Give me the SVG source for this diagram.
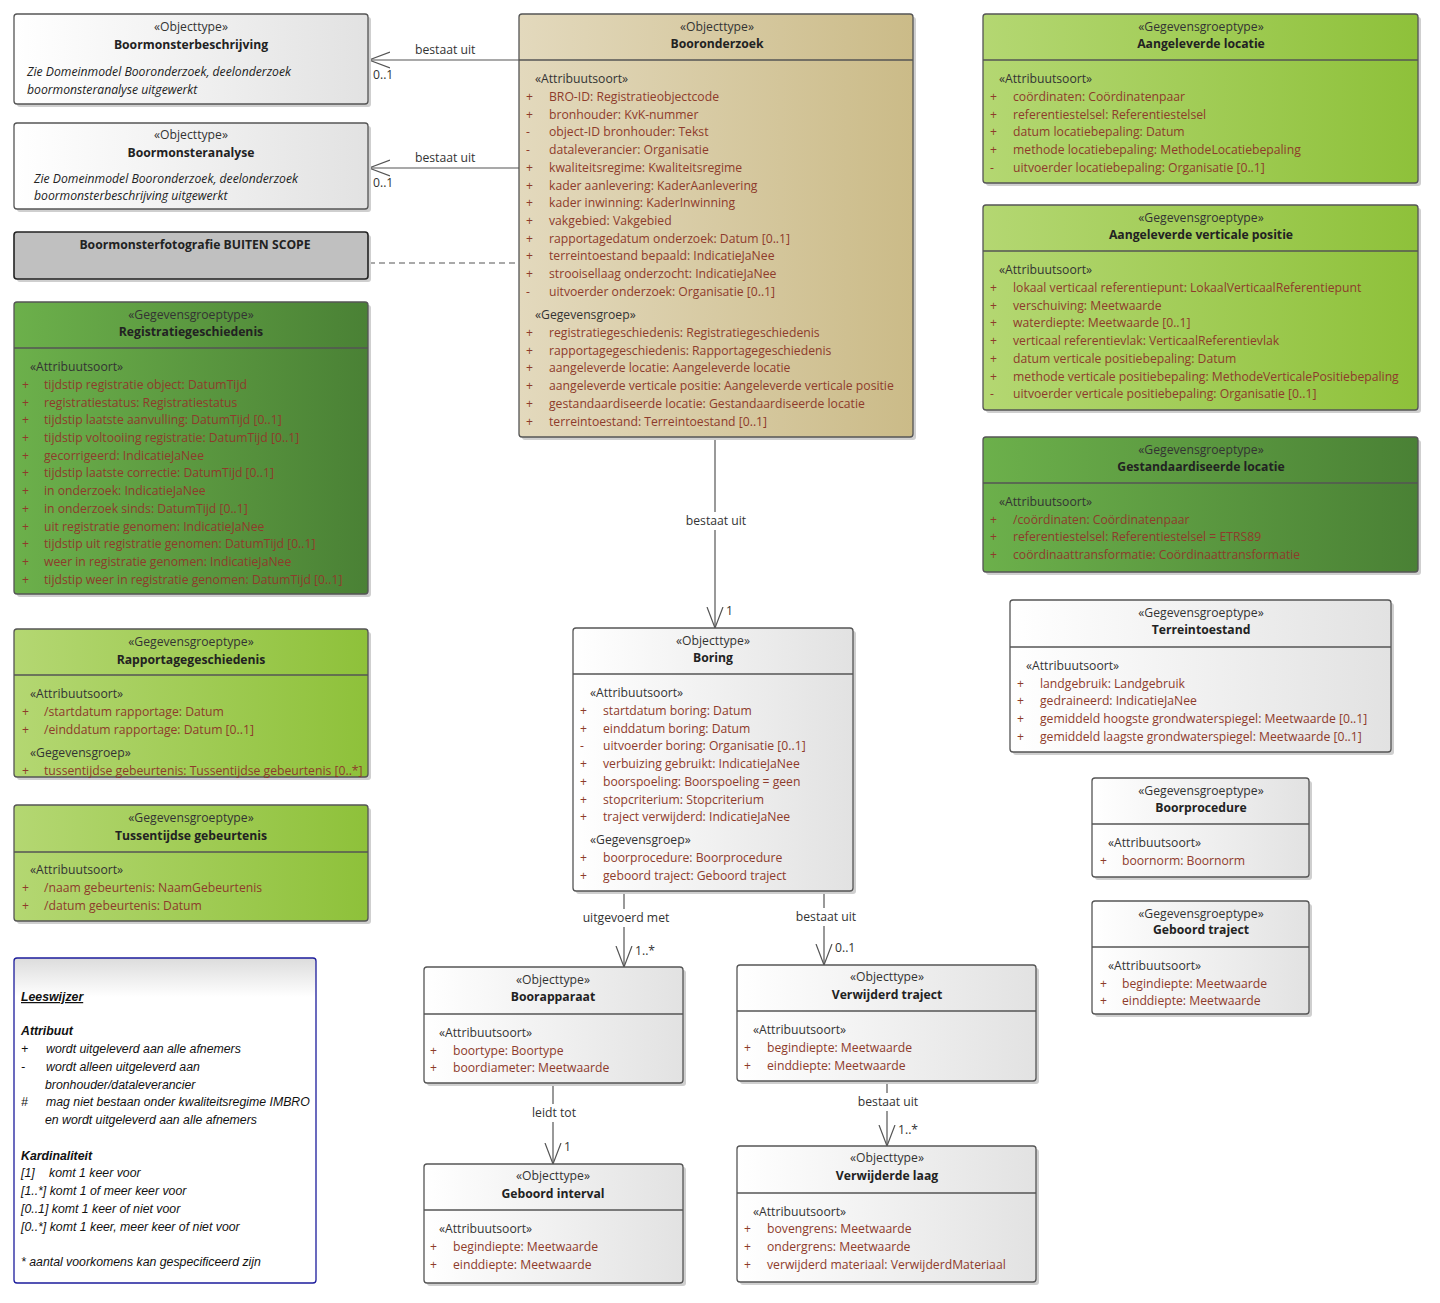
<svg xmlns="http://www.w3.org/2000/svg" width="1440" height="1303" viewBox="0 0 1440 1303">
<defs>
<linearGradient id="gWhite" x1="0" y1="0" x2="1" y2="0"><stop offset="0" stop-color="#ffffff"/><stop offset="1" stop-color="#e2e2e2"/></linearGradient>
<linearGradient id="gTan" x1="0" y1="0" x2="1" y2="0"><stop offset="0" stop-color="#e3d9bd"/><stop offset="1" stop-color="#cbbb88"/></linearGradient>
<linearGradient id="gLight" x1="0" y1="0" x2="1" y2="0"><stop offset="0" stop-color="#b4d772"/><stop offset="1" stop-color="#8ec13a"/></linearGradient>
<linearGradient id="gDark" x1="0" y1="0" x2="1" y2="0"><stop offset="0" stop-color="#6cb04b"/><stop offset="1" stop-color="#4a8135"/></linearGradient>
<linearGradient id="gNote" x1="0" y1="0" x2="0" y2="1"><stop offset="0" stop-color="#dcdcdc"/><stop offset="0.12" stop-color="#ffffff"/><stop offset="1" stop-color="#ffffff"/></linearGradient>
<marker id="open" viewBox="0 0 22 20" refX="21" refY="10" markerWidth="22" markerHeight="20" markerUnits="userSpaceOnUse" orient="auto-start-reverse">
<path d="M0,2 L21,10 L0,18" fill="none" stroke="#555" stroke-width="1.2"/>
</marker>
</defs>
<style>
text{font-family:"Open Sans","Liberation Sans",Arial,sans-serif;font-size:12.2px;fill:#333}
.st{text-anchor:middle;fill:#333}
.nm{text-anchor:middle;font-weight:bold;fill:#222}
.at{fill:#8e3b2b}
.sym{fill:#8e3b2b}
.it{font-style:italic;fill:#222}
.box{stroke:#555;stroke-width:1.3}
.sh{fill:#cfcfcf}
.div{stroke:#555;stroke-width:1.3}
.con{stroke:#555;stroke-width:1.2;fill:none}
.lbl{fill:#333}
.note{font-family:"Liberation Sans",Arial,sans-serif;font-style:italic;font-size:12.3px;fill:#111}
</style>
<rect width="1440" height="1303" fill="#ffffff"/>

<g id="connectors">
<line class="con" x1="519" y1="60" x2="369" y2="60" marker-end="url(#open)"/>
<text class="lbl" x="415" y="54">bestaat uit</text>
<text class="lbl" x="373" y="79">0..1</text>
<line class="con" x1="519" y1="168" x2="369" y2="168" marker-end="url(#open)"/>
<text class="lbl" x="415" y="162">bestaat uit</text>
<text class="lbl" x="373" y="187">0..1</text>
<line class="con" x1="369" y1="263" x2="519" y2="263" stroke-dasharray="6,4"/>
<line class="con" x1="715" y1="437" x2="715" y2="512"/>
<line class="con" x1="715" y1="530" x2="715" y2="628" marker-end="url(#open)"/>
<text class="lbl" x="716" y="525" text-anchor="middle">bestaat uit</text>
<text class="lbl" x="726" y="615">1</text>
<line class="con" x1="624" y1="891" x2="624" y2="909"/>
<line class="con" x1="624" y1="927" x2="624" y2="967" marker-end="url(#open)"/>
<text class="lbl" x="626" y="922" text-anchor="middle">uitgevoerd met</text>
<text class="lbl" x="635" y="955">1..*</text>
<line class="con" x1="824" y1="891" x2="824" y2="908"/>
<line class="con" x1="824" y1="926" x2="824" y2="965" marker-end="url(#open)"/>
<text class="lbl" x="826" y="921" text-anchor="middle">bestaat uit</text>
<text class="lbl" x="835" y="952">0..1</text>
<line class="con" x1="553" y1="1083" x2="553" y2="1104"/>
<line class="con" x1="553" y1="1122" x2="553" y2="1164" marker-end="url(#open)"/>
<text class="lbl" x="554" y="1117" text-anchor="middle">leidt tot</text>
<text class="lbl" x="564" y="1151">1</text>
<line class="con" x1="887" y1="1081" x2="887" y2="1093"/>
<line class="con" x1="887" y1="1111" x2="887" y2="1146" marker-end="url(#open)"/>
<text class="lbl" x="888" y="1106" text-anchor="middle">bestaat uit</text>
<text class="lbl" x="898" y="1134">1..*</text>
</g>

<g id="boormonsterbeschrijving">
<rect class="sh" x="17" y="17" width="354" height="90" rx="3"/>
<rect class="box" x="14" y="14" width="354" height="90" rx="3" fill="url(#gWhite)"/>
<text class="st" x="191" y="31">«Objecttype»</text>
<text class="nm" x="191" y="49">Boormonsterbeschrijving</text>
<text class="it" x="27" y="76">Zie Domeinmodel Booronderzoek, deelonderzoek</text>
<text class="it" x="27" y="94">boormonsteranalyse uitgewerkt</text>
</g>

<g id="boormonsteranalyse">
<rect class="sh" x="17" y="126" width="354" height="86" rx="3"/>
<rect class="box" x="14" y="123" width="354" height="86" rx="3" fill="url(#gWhite)"/>
<text class="st" x="191" y="139">«Objecttype»</text>
<text class="nm" x="191" y="157">Boormonsteranalyse</text>
<text class="it" x="34" y="183">Zie Domeinmodel Booronderzoek, deelonderzoek</text>
<text class="it" x="34" y="200">boormonsterbeschrijving uitgewerkt</text>
</g>

<g id="boormonsterfotografie">
<rect class="sh" x="17" y="235" width="354" height="47" rx="3"/>
<rect x="14" y="232" width="354" height="47" rx="3" fill="#c0c0c0" stroke="#222" stroke-width="1.6"/>
<text class="nm" x="195" y="249" fill="#111">Boormonsterfotografie BUITEN SCOPE</text>
</g>

<g id="registratiegeschiedenis">
<rect class="sh" x="17" y="305" width="354" height="292" rx="3"/>
<rect class="box" x="14" y="302" width="354" height="292" rx="3" fill="url(#gDark)"/>
<line class="div" x1="14" y1="348" x2="368" y2="348"/>
<text class="st" x="191" y="319" fill="#111">«Gegevensgroeptype»</text>
<text class="nm" x="191" y="336" fill="#111">Registratiegeschiedenis</text>
<text x="30" y="371" fill="#111">«Attribuutsoort»</text>
<text x="22" y="389" class="sym">+</text><text x="44" y="389" class="at">tijdstip registratie object: DatumTijd</text>
<text x="22" y="407" class="sym">+</text><text x="44" y="407" class="at">registratiestatus: Registratiestatus</text>
<text x="22" y="424" class="sym">+</text><text x="44" y="424" class="at">tijdstip laatste aanvulling: DatumTijd [0..1]</text>
<text x="22" y="442" class="sym">+</text><text x="44" y="442" class="at">tijdstip voltooiing registratie: DatumTijd [0..1]</text>
<text x="22" y="460" class="sym">+</text><text x="44" y="460" class="at">gecorrigeerd: IndicatieJaNee</text>
<text x="22" y="477" class="sym">+</text><text x="44" y="477" class="at">tijdstip laatste correctie: DatumTijd [0..1]</text>
<text x="22" y="495" class="sym">+</text><text x="44" y="495" class="at">in onderzoek: IndicatieJaNee</text>
<text x="22" y="513" class="sym">+</text><text x="44" y="513" class="at">in onderzoek sinds: DatumTijd [0..1]</text>
<text x="22" y="531" class="sym">+</text><text x="44" y="531" class="at">uit registratie genomen: IndicatieJaNee</text>
<text x="22" y="548" class="sym">+</text><text x="44" y="548" class="at">tijdstip uit registratie genomen: DatumTijd [0..1]</text>
<text x="22" y="566" class="sym">+</text><text x="44" y="566" class="at">weer in registratie genomen: IndicatieJaNee</text>
<text x="22" y="584" class="sym">+</text><text x="44" y="584" class="at">tijdstip weer in registratie genomen: DatumTijd [0..1]</text>
</g>

<g id="rapportagegeschiedenis">
<rect class="sh" x="17" y="632" width="354" height="148" rx="3"/>
<rect class="box" x="14" y="629" width="354" height="148" rx="3" fill="url(#gLight)"/>
<line class="div" x1="14" y1="675" x2="368" y2="675"/>
<text class="st" x="191" y="646">«Gegevensgroeptype»</text>
<text class="nm" x="191" y="664">Rapportagegeschiedenis</text>
<text x="30" y="698">«Attribuutsoort»</text>
<text x="22" y="716" class="sym">+</text><text x="44" y="716" class="at">/startdatum rapportage: Datum</text>
<text x="22" y="734" class="sym">+</text><text x="44" y="734" class="at">/einddatum rapportage: Datum [0..1]</text>
<text x="30" y="757">«Gegevensgroep»</text>
<text x="22" y="775" class="sym">+</text><text x="44" y="775" class="at">tussentijdse gebeurtenis: Tussentijdse gebeurtenis [0..*]</text>
</g>

<g id="tussentijdse-gebeurtenis">
<rect class="sh" x="17" y="808" width="354" height="116" rx="3"/>
<rect class="box" x="14" y="805" width="354" height="116" rx="3" fill="url(#gLight)"/>
<line class="div" x1="14" y1="852" x2="368" y2="852"/>
<text class="st" x="191" y="822">«Gegevensgroeptype»</text>
<text class="nm" x="191" y="840">Tussentijdse gebeurtenis</text>
<text x="30" y="874">«Attribuutsoort»</text>
<text x="22" y="892" class="sym">+</text><text x="44" y="892" class="at">/naam gebeurtenis: NaamGebeurtenis</text>
<text x="22" y="910" class="sym">+</text><text x="44" y="910" class="at">/datum gebeurtenis: Datum</text>
</g>

<g id="leeswijzer">
<rect x="14" y="958" width="302" height="325" rx="3" fill="url(#gNote)" stroke="#1c1c9c" stroke-width="1.3"/>
<text class="note" x="21" y="1001" font-weight="bold" text-decoration="underline">Leeswijzer</text>
<text class="note" x="21" y="1035" font-weight="bold">Attribuut</text>
<text class="note" x="21" y="1053">+</text><text class="note" x="46" y="1053">wordt uitgeleverd aan alle afnemers</text>
<text class="note" x="21" y="1071">-</text><text class="note" x="46" y="1071">wordt alleen uitgeleverd aan</text>
<text class="note" x="45" y="1089">bronhouder/dataleverancier</text>
<text class="note" x="21" y="1106">#</text><text class="note" x="46" y="1106">mag niet bestaan onder kwaliteitsregime IMBRO</text>
<text class="note" x="45" y="1124">en wordt uitgeleverd aan alle afnemers</text>
<text class="note" x="21" y="1160" font-weight="bold">Kardinaliteit</text>
<text class="note" x="21" y="1177">[1]</text><text class="note" x="49" y="1177">komt 1 keer voor</text>
<text class="note" x="21" y="1195">[1..*] komt 1 of meer keer voor</text>
<text class="note" x="21" y="1213">[0..1] komt 1 keer of niet voor</text>
<text class="note" x="21" y="1231">[0..*] komt 1 keer, meer keer of niet voor</text>
<text class="note" x="21" y="1266">* aantal voorkomens kan gespecificeerd zijn</text>
</g>

<g id="booronderzoek">
<rect class="sh" x="522" y="17" width="394" height="423" rx="3"/>
<rect class="box" x="519" y="14" width="394" height="423" rx="3" fill="url(#gTan)"/>
<line class="div" x1="519" y1="60" x2="913" y2="60"/>
<text class="st" x="717" y="31">«Objecttype»</text>
<text class="nm" x="717" y="48">Booronderzoek</text>
<text x="535" y="83">«Attribuutsoort»</text>
<text x="526" y="101" class="sym">+</text><text x="549" y="101" class="at">BRO-ID: Registratieobjectcode</text>
<text x="526" y="119" class="sym">+</text><text x="549" y="119" class="at">bronhouder: KvK-nummer</text>
<text x="526" y="136" class="sym">-</text><text x="549" y="136" class="at">object-ID bronhouder: Tekst</text>
<text x="526" y="154" class="sym">-</text><text x="549" y="154" class="at">dataleverancier: Organisatie</text>
<text x="526" y="172" class="sym">+</text><text x="549" y="172" class="at">kwaliteitsregime: Kwaliteitsregime</text>
<text x="526" y="190" class="sym">+</text><text x="549" y="190" class="at">kader aanlevering: KaderAanlevering</text>
<text x="526" y="207" class="sym">+</text><text x="549" y="207" class="at">kader inwinning: KaderInwinning</text>
<text x="526" y="225" class="sym">+</text><text x="549" y="225" class="at">vakgebied: Vakgebied</text>
<text x="526" y="243" class="sym">+</text><text x="549" y="243" class="at">rapportagedatum onderzoek: Datum [0..1]</text>
<text x="526" y="260" class="sym">+</text><text x="549" y="260" class="at">terreintoestand bepaald: IndicatieJaNee</text>
<text x="526" y="278" class="sym">+</text><text x="549" y="278" class="at">strooisellaag onderzocht: IndicatieJaNee</text>
<text x="526" y="296" class="sym">-</text><text x="549" y="296" class="at">uitvoerder onderzoek: Organisatie [0..1]</text>
<text x="535" y="319">«Gegevensgroep»</text>
<text x="526" y="337" class="sym">+</text><text x="549" y="337" class="at">registratiegeschiedenis: Registratiegeschiedenis</text>
<text x="526" y="355" class="sym">+</text><text x="549" y="355" class="at">rapportagegeschiedenis: Rapportagegeschiedenis</text>
<text x="526" y="372" class="sym">+</text><text x="549" y="372" class="at">aangeleverde locatie: Aangeleverde locatie</text>
<text x="526" y="390" class="sym">+</text><text x="549" y="390" class="at">aangeleverde verticale positie: Aangeleverde verticale positie</text>
<text x="526" y="408" class="sym">+</text><text x="549" y="408" class="at">gestandaardiseerde locatie: Gestandaardiseerde locatie</text>
<text x="526" y="426" class="sym">+</text><text x="549" y="426" class="at">terreintoestand: Terreintoestand [0..1]</text>
</g>

<g id="boring">
<rect class="sh" x="576" y="631" width="280" height="263" rx="3"/>
<rect class="box" x="573" y="628" width="280" height="263" rx="3" fill="url(#gWhite)"/>
<line class="div" x1="573" y1="674" x2="853" y2="674"/>
<text class="st" x="713" y="645">«Objecttype»</text>
<text class="nm" x="713" y="662">Boring</text>
<text x="590" y="697">«Attribuutsoort»</text>
<text x="580" y="715" class="sym">+</text><text x="603" y="715" class="at">startdatum boring: Datum</text>
<text x="580" y="733" class="sym">+</text><text x="603" y="733" class="at">einddatum boring: Datum</text>
<text x="580" y="750" class="sym">-</text><text x="603" y="750" class="at">uitvoerder boring: Organisatie [0..1]</text>
<text x="580" y="768" class="sym">+</text><text x="603" y="768" class="at">verbuizing gebruikt: IndicatieJaNee</text>
<text x="580" y="786" class="sym">+</text><text x="603" y="786" class="at">boorspoeling: Boorspoeling = geen</text>
<text x="580" y="804" class="sym">+</text><text x="603" y="804" class="at">stopcriterium: Stopcriterium</text>
<text x="580" y="821" class="sym">+</text><text x="603" y="821" class="at">traject verwijderd: IndicatieJaNee</text>
<text x="590" y="844">«Gegevensgroep»</text>
<text x="580" y="862" class="sym">+</text><text x="603" y="862" class="at">boorprocedure: Boorprocedure</text>
<text x="580" y="880" class="sym">+</text><text x="603" y="880" class="at">geboord traject: Geboord traject</text>
</g>

<g id="boorapparaat">
<rect class="sh" x="427" y="970" width="259" height="116" rx="3"/>
<rect class="box" x="424" y="967" width="259" height="116" rx="3" fill="url(#gWhite)"/>
<line class="div" x1="424" y1="1014" x2="683" y2="1014"/>
<text class="st" x="553" y="984">«Objecttype»</text>
<text class="nm" x="553" y="1001">Boorapparaat</text>
<text x="439" y="1037">«Attribuutsoort»</text>
<text x="430" y="1055" class="sym">+</text><text x="453" y="1055" class="at">boortype: Boortype</text>
<text x="430" y="1072" class="sym">+</text><text x="453" y="1072" class="at">boordiameter: Meetwaarde</text>
</g>

<g id="geboord-interval">
<rect class="sh" x="427" y="1167" width="259" height="119" rx="3"/>
<rect class="box" x="424" y="1164" width="259" height="119" rx="3" fill="url(#gWhite)"/>
<line class="div" x1="424" y1="1210" x2="683" y2="1210"/>
<text class="st" x="553" y="1180">«Objecttype»</text>
<text class="nm" x="553" y="1198">Geboord interval</text>
<text x="439" y="1233">«Attribuutsoort»</text>
<text x="430" y="1251" class="sym">+</text><text x="453" y="1251" class="at">begindiepte: Meetwaarde</text>
<text x="430" y="1269" class="sym">+</text><text x="453" y="1269" class="at">einddiepte: Meetwaarde</text>
</g>

<g id="verwijderd-traject">
<rect class="sh" x="740" y="968" width="299" height="116" rx="3"/>
<rect class="box" x="737" y="965" width="299" height="116" rx="3" fill="url(#gWhite)"/>
<line class="div" x1="737" y1="1011" x2="1036" y2="1011"/>
<text class="st" x="887" y="981">«Objecttype»</text>
<text class="nm" x="887" y="999">Verwijderd traject</text>
<text x="753" y="1034">«Attribuutsoort»</text>
<text x="744" y="1052" class="sym">+</text><text x="767" y="1052" class="at">begindiepte: Meetwaarde</text>
<text x="744" y="1070" class="sym">+</text><text x="767" y="1070" class="at">einddiepte: Meetwaarde</text>
</g>

<g id="verwijderde-laag">
<rect class="sh" x="740" y="1149" width="299" height="136" rx="3"/>
<rect class="box" x="737" y="1146" width="299" height="136" rx="3" fill="url(#gWhite)"/>
<line class="div" x1="737" y1="1193" x2="1036" y2="1193"/>
<text class="st" x="887" y="1162">«Objecttype»</text>
<text class="nm" x="887" y="1180">Verwijderde laag</text>
<text x="753" y="1216">«Attribuutsoort»</text>
<text x="744" y="1233" class="sym">+</text><text x="767" y="1233" class="at">bovengrens: Meetwaarde</text>
<text x="744" y="1251" class="sym">+</text><text x="767" y="1251" class="at">ondergrens: Meetwaarde</text>
<text x="744" y="1269" class="sym">+</text><text x="767" y="1269" class="at">verwijderd materiaal: VerwijderdMateriaal</text>
</g>

<g id="aangeleverde-locatie">
<rect class="sh" x="986" y="17" width="435" height="169" rx="3"/>
<rect class="box" x="983" y="14" width="435" height="169" rx="3" fill="url(#gLight)"/>
<line class="div" x1="983" y1="60" x2="1418" y2="60"/>
<text class="st" x="1201" y="31">«Gegevensgroeptype»</text>
<text class="nm" x="1201" y="48">Aangeleverde locatie</text>
<text x="999" y="83">«Attribuutsoort»</text>
<text x="990" y="101" class="sym">+</text><text x="1013" y="101" class="at">coördinaten: Coördinatenpaar</text>
<text x="990" y="119" class="sym">+</text><text x="1013" y="119" class="at">referentiestelsel: Referentiestelsel</text>
<text x="990" y="136" class="sym">+</text><text x="1013" y="136" class="at">datum locatiebepaling: Datum</text>
<text x="990" y="154" class="sym">+</text><text x="1013" y="154" class="at">methode locatiebepaling: MethodeLocatiebepaling</text>
<text x="990" y="172" class="sym">-</text><text x="1013" y="172" class="at">uitvoerder locatiebepaling: Organisatie [0..1]</text>
</g>

<g id="aangeleverde-verticale-positie">
<rect class="sh" x="986" y="208" width="435" height="205" rx="3"/>
<rect class="box" x="983" y="205" width="435" height="205" rx="3" fill="url(#gLight)"/>
<line class="div" x1="983" y1="251" x2="1418" y2="251"/>
<text class="st" x="1201" y="222">«Gegevensgroeptype»</text>
<text class="nm" x="1201" y="239">Aangeleverde verticale positie</text>
<text x="999" y="274">«Attribuutsoort»</text>
<text x="990" y="292" class="sym">+</text><text x="1013" y="292" class="at">lokaal verticaal referentiepunt: LokaalVerticaalReferentiepunt</text>
<text x="990" y="310" class="sym">+</text><text x="1013" y="310" class="at">verschuiving: Meetwaarde</text>
<text x="990" y="327" class="sym">+</text><text x="1013" y="327" class="at">waterdiepte: Meetwaarde [0..1]</text>
<text x="990" y="345" class="sym">+</text><text x="1013" y="345" class="at">verticaal referentievlak: VerticaalReferentievlak</text>
<text x="990" y="363" class="sym">+</text><text x="1013" y="363" class="at">datum verticale positiebepaling: Datum</text>
<text x="990" y="381" class="sym">+</text><text x="1013" y="381" class="at">methode verticale positiebepaling: MethodeVerticalePositiebepaling</text>
<text x="990" y="398" class="sym">-</text><text x="1013" y="398" class="at">uitvoerder verticale positiebepaling: Organisatie [0..1]</text>
</g>

<g id="gestandaardiseerde-locatie">
<rect class="sh" x="986" y="440" width="435" height="135" rx="3"/>
<rect class="box" x="983" y="437" width="435" height="135" rx="3" fill="url(#gDark)"/>
<line class="div" x1="983" y1="483" x2="1418" y2="483"/>
<text class="st" x="1201" y="454">«Gegevensgroeptype»</text>
<text class="nm" x="1201" y="471">Gestandaardiseerde locatie</text>
<text x="999" y="506">«Attribuutsoort»</text>
<text x="990" y="524" class="sym">+</text><text x="1013" y="524" class="at">/coördinaten: Coördinatenpaar</text>
<text x="990" y="541" class="sym">+</text><text x="1013" y="541" class="at">referentiestelsel: Referentiestelsel = ETRS89</text>
<text x="990" y="559" class="sym">+</text><text x="1013" y="559" class="at">coördinaattransformatie: Coördinaattransformatie</text>
</g>

<g id="terreintoestand">
<rect class="sh" x="1013" y="603" width="381" height="152" rx="3"/>
<rect class="box" x="1010" y="600" width="381" height="152" rx="3" fill="url(#gWhite)"/>
<line class="div" x1="1010" y1="647" x2="1391" y2="647"/>
<text class="st" x="1201" y="617">«Gegevensgroeptype»</text>
<text class="nm" x="1201" y="634">Terreintoestand</text>
<text x="1026" y="670">«Attribuutsoort»</text>
<text x="1017" y="688" class="sym">+</text><text x="1040" y="688" class="at">landgebruik: Landgebruik</text>
<text x="1017" y="705" class="sym">+</text><text x="1040" y="705" class="at">gedraineerd: IndicatieJaNee</text>
<text x="1017" y="723" class="sym">+</text><text x="1040" y="723" class="at">gemiddeld hoogste grondwaterspiegel: Meetwaarde [0..1]</text>
<text x="1017" y="741" class="sym">+</text><text x="1040" y="741" class="at">gemiddeld laagste grondwaterspiegel: Meetwaarde [0..1]</text>
</g>

<g id="boorprocedure">
<rect class="sh" x="1095" y="781" width="217" height="99" rx="3"/>
<rect class="box" x="1092" y="778" width="217" height="99" rx="3" fill="url(#gWhite)"/>
<line class="div" x1="1092" y1="824" x2="1309" y2="824"/>
<text class="st" x="1201" y="795">«Gegevensgroeptype»</text>
<text class="nm" x="1201" y="812">Boorprocedure</text>
<text x="1108" y="847">«Attribuutsoort»</text>
<text x="1100" y="865" class="sym">+</text><text x="1122" y="865" class="at">boornorm: Boornorm</text>
</g>

<g id="geboord-traject">
<rect class="sh" x="1095" y="904" width="217" height="113" rx="3"/>
<rect class="box" x="1092" y="901" width="217" height="113" rx="3" fill="url(#gWhite)"/>
<line class="div" x1="1092" y1="947" x2="1309" y2="947"/>
<text class="st" x="1201" y="918">«Gegevensgroeptype»</text>
<text class="nm" x="1201" y="934">Geboord traject</text>
<text x="1108" y="970">«Attribuutsoort»</text>
<text x="1100" y="988" class="sym">+</text><text x="1122" y="988" class="at">begindiepte: Meetwaarde</text>
<text x="1100" y="1005" class="sym">+</text><text x="1122" y="1005" class="at">einddiepte: Meetwaarde</text>
</g>
</svg>
